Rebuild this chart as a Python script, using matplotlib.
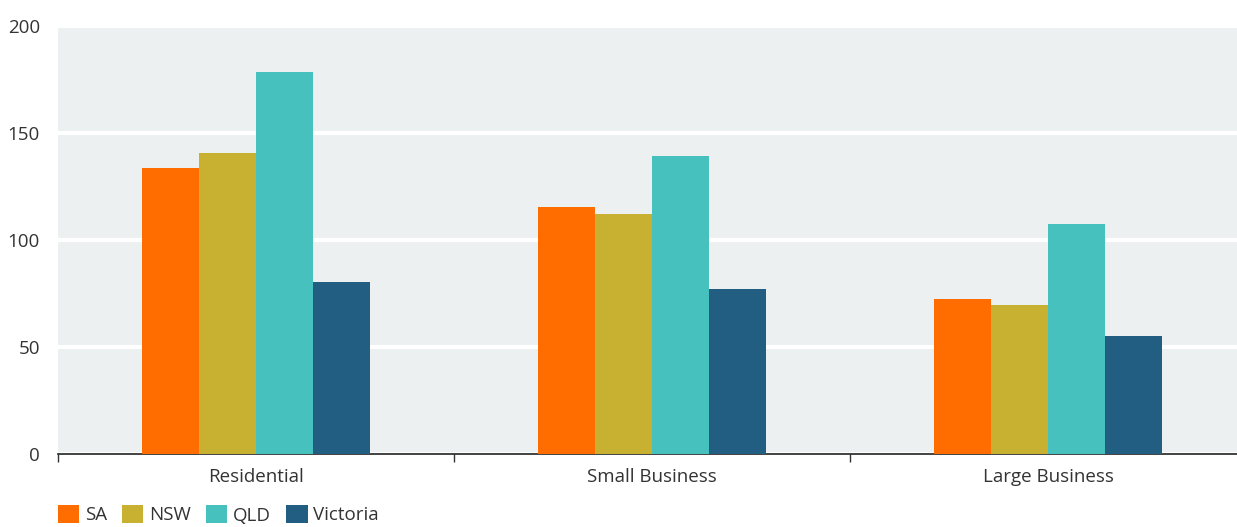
import matplotlib
matplotlib.use("Agg")
import matplotlib.pyplot as plt
import numpy as np
from matplotlib.patches import Patch

categories = ["Residential", "Small Business", "Large Business"]
series_names = ["SA", "NSW", "QLD", "Victoria"]
sa = [133.5, 115.4, 72.4]
nsw = [140.6, 112.1, 69.6]
qld = [178.5, 139.3, 107.5]
vic = [80.4, 77.1, 55.1]
colors = ["#FF6C00", "#C8B031", "#47C1BE", "#225E82"]
yticks = [0, 50, 100, 150, 200]

plt.rcParams['font.family'] = ['Open Sans', 'DejaVu Sans']

W, H = 1237, 527
fig = plt.figure(figsize=(W / 100, H / 100), dpi=100)
ax = fig.add_axes([58 / W, (H - 454) / H, (W - 58) / W, 428 / H])
ax.set_facecolor("#ECF0F1")

x = np.arange(len(categories))
bw = 0.144
values = [sa, nsw, qld, vic]
for i, (name, vals, c) in enumerate(zip(series_names, values, colors)):
    ax.bar(x + (i - 1.5) * bw, vals, width=bw, color=c, label=name, zorder=3)

fs = 13.5
ax.set_ylim(0, 200)
ax.set_xlim(-0.5, 2.5 - 9 / 396)
ax.set_yticks(yticks)
ax.set_yticklabels([str(v) for v in yticks], fontsize=fs, color="#333333")
ax.yaxis.grid(True, color="white", linewidth=3, zorder=1)
ax.tick_params(axis="y", length=0, pad=13)

ax.set_xticks(x)
ax.set_xticklabels(categories, fontsize=fs, color="#333333")
ax.tick_params(axis="x", which="major", length=0, pad=10)
ax.set_xticks([-0.5, 0.5, 1.5], minor=True)
ax.tick_params(axis="x", which="minor", length=6, width=1, color="#333333", direction="out")

for s in ["top", "right", "left"]:
    ax.spines[s].set_visible(False)
ax.spines["bottom"].set_color("#222222")
ax.spines["bottom"].set_linewidth(1.2)

handles = [Patch(facecolor=c, label=n) for n, c in zip(series_names, colors)]
fig.legend(handles=handles, loc="lower left", bbox_to_anchor=(50 / W, -5 / H),
           ncol=4, frameon=False, fontsize=fs, handlelength=1.15, handleheight=1.15,
           handletextpad=0.3, columnspacing=0.8, borderaxespad=0, labelcolor="#333333")

fig.savefig("out.png", dpi=100)
